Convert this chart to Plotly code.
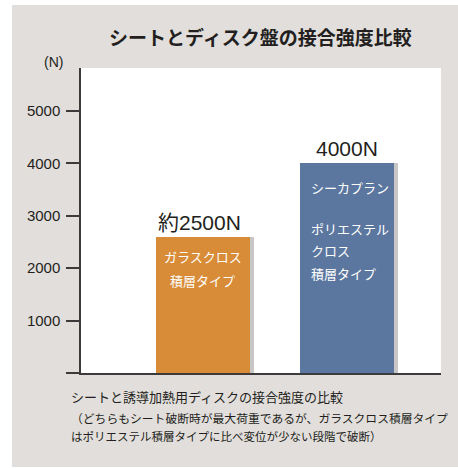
import plotly.graph_objects as go

# ---- data ----
categories = ["ガラスクロス積層タイプ", "シーカプラン ポリエステルクロス積層タイプ"]
values = [2600, 4000]
value_labels = ["約2500N", "4000N"]
inner_lines = [["ガラスクロス", "積層タイプ"],
               ["シーカプラン", "ポリエステル", "クロス", "積層タイプ"]]
tick_vals = [0, 1000, 2000, 3000, 4000, 5000]
tick_text = ["", "1000", "2000", "3000", "4000", "5000"]
title_text = "シートとディスク盤の接合強度比較"
unit_text = "(N)"
caption_lines = ["シートと誘導加熱用ディスクの接合強度の比較",
                 "（どちらもシート破断時が最大荷重であるが、ガラスクロス積層タイプ",
                 "はポリエステル積層タイプに比べ変位が少ない段階で破断）"]

# ---- style ----
W, H = 458, 468
ML, MR, MT, MB = 81, 17, 68, 95
PW, PH = W - ML - MR, H - MT - MB
bar_colors = ["#D98C38", "#5B779F"]
shadow_color = "#C9C6C6"
bg_grey = "#E2DEDB"
axis_color = "#3C3A3A"
text_color = "#231F20"
JP = "Noto Sans CJK JP"
LAT = "Liberation Sans, Arial, " + JP
bar_w = 0.653
unit_px = 144.7  # px per category step

def px(x):
    return (x - ML) / PW

def py(y):
    return (H - MB - y) / PH

fig = go.Figure()
# shadow
fig.add_trace(go.Bar(x=[0, 1], y=values, width=bar_w, offset=-bar_w / 2 + 4 / unit_px,
                     marker=dict(color=shadow_color, line=dict(width=0)),
                     hoverinfo="skip", showlegend=False))
fig.add_trace(go.Bar(x=[0, 1], y=values, width=bar_w, offset=-bar_w / 2,
                     marker=dict(color=bar_colors, line=dict(width=0)),
                     hovertext=categories, showlegend=False))

annotations = []
# value labels above bars
for i, (v, lab) in enumerate(zip(values, value_labels)):
    annotations.append(dict(x=i - 0.02 if i == 0 else i, y=v, xref="x", yref="y", text=lab,
                            showarrow=False, yanchor="bottom", yshift=1,
                            font=dict(family=LAT, size=21, color=text_color)))
# inner text, orange (centered)
for j, line in enumerate(inner_lines[0]):
    annotations.append(dict(x=0, y=values[0], xref="x", yref="y", text=line,
                            showarrow=False, yanchor="middle", yshift=-(20 + 23.5 * j),
                            font=dict(family=JP, size=13, color="white")))
# inner text, blue (left aligned)
blue_shifts = [23.7, 64.7, 86.7, 109.7]
for j, line in enumerate(inner_lines[1]):
    annotations.append(dict(x=1 - bar_w / 2, y=values[1], xref="x", yref="y", text=line,
                            showarrow=False, xanchor="left", xshift=9,
                            yanchor="middle", yshift=-blue_shifts[j],
                            font=dict(family=JP, size=13, color="white")))
# title
annotations.append(dict(x=px(260), y=py(37), xref="paper", yref="paper", text="<b>" + title_text + "</b>",
                        showarrow=False, xanchor="center", yanchor="middle",
                        font=dict(family=JP, size=19, color=text_color)))
# unit
annotations.append(dict(x=px(53), y=py(62), xref="paper", yref="paper", text=unit_text,
                        showarrow=False, xanchor="center", yanchor="middle",
                        font=dict(family=LAT, size=14, color=text_color)))
# caption
cap_y = [396, 417, 436]
cap_sizes = [13, 11.8, 11.5]
for t, yy, s in zip(caption_lines, cap_y, cap_sizes):
    annotations.append(dict(x=px(69), y=py(yy), xref="paper", yref="paper", text=t,
                            showarrow=False, xanchor="left", yanchor="middle",
                            font=dict(family=JP, size=s, color=text_color)))

shapes = [
    dict(type="rect", xref="paper", yref="paper", x0=px(0), x1=px(12), y0=py(H), y1=py(0),
         fillcolor="white", line=dict(width=0), layer="below"),
    dict(type="rect", xref="paper", yref="paper", x0=px(0), x1=px(W), y0=py(5), y1=py(0),
         fillcolor="white", line=dict(width=0), layer="below"),
    dict(type="rect", xref="paper", yref="paper", x0=px(0), x1=px(W), y0=py(H), y1=py(H - 1),
         fillcolor="white", line=dict(width=0), layer="below"),
]

fig.update_layout(
    width=W, height=H,
    margin=dict(l=ML, r=MR, t=MT, b=MB, pad=0),
    paper_bgcolor=bg_grey, plot_bgcolor="white",
    barmode="overlay", bargap=0,
    annotations=annotations, shapes=shapes,
    xaxis=dict(range=[-0.843, 1.652], showticklabels=False, ticks="", showgrid=False,
               zeroline=False, showline=True, linecolor=axis_color, linewidth=1.5, fixedrange=True),
    yaxis=dict(range=[0, 5821], tickvals=tick_vals, ticktext=tick_text, ticks="outside",
               ticklen=13, tickwidth=1.5, tickcolor=axis_color, showgrid=False, zeroline=False,
               showline=True, linecolor=axis_color, linewidth=1.5, ticklabelstandoff=3,
               tickfont=dict(family=LAT, size=15, color=text_color), fixedrange=True),
    font=dict(family=JP, color=text_color),
)

fig.write_html("out.html", config={"displayModeBar": False})
